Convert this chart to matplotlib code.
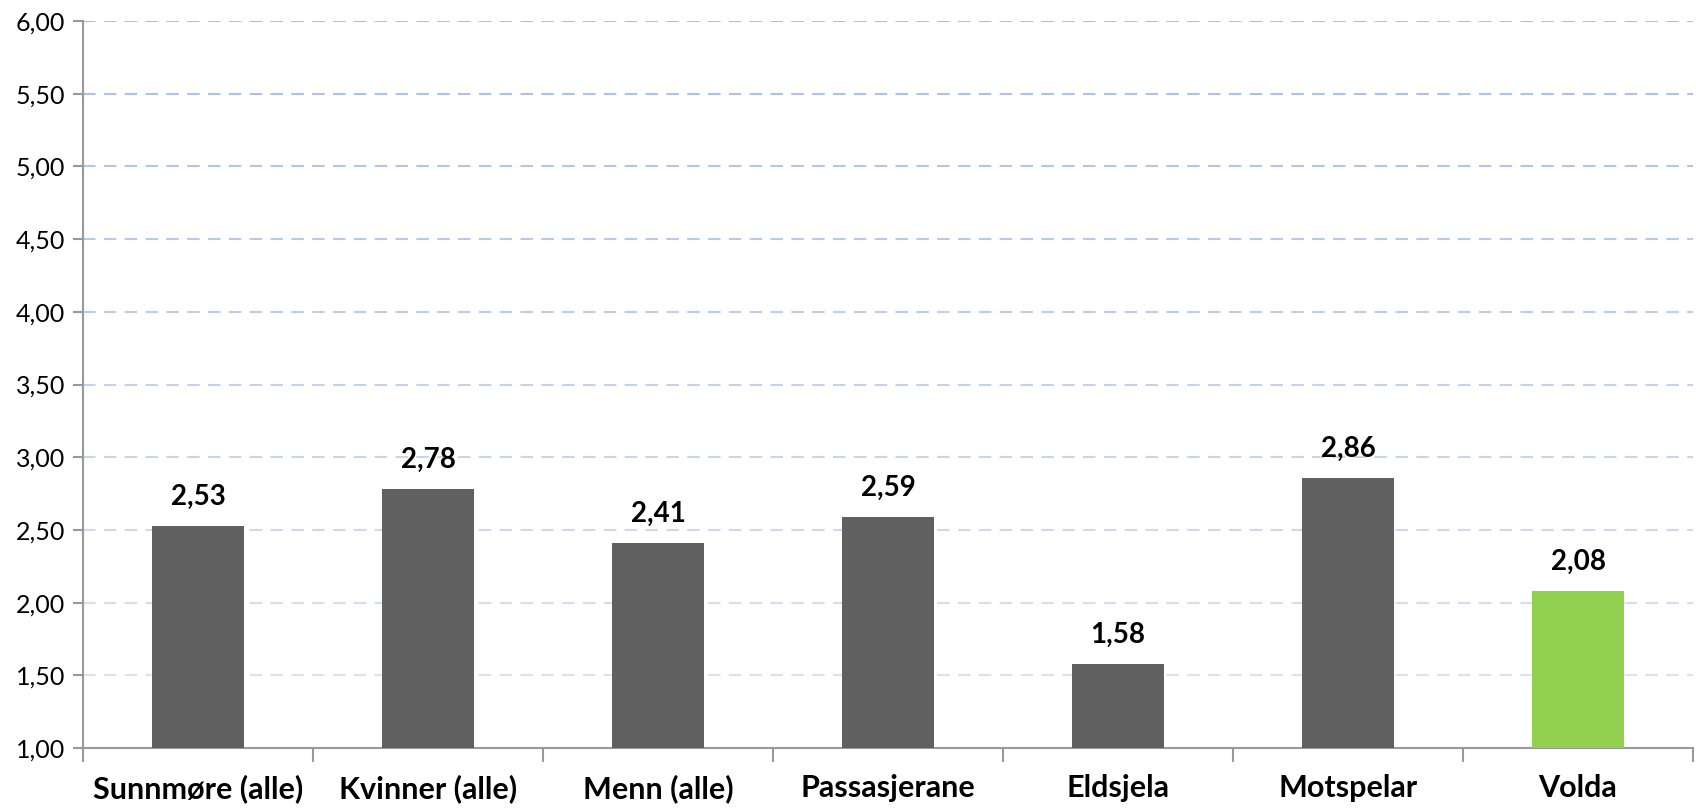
import numpy as np
import matplotlib.pyplot as plt
from matplotlib.colors import to_rgb

categories = ['Sunnmøre (alle)', 'Kvinner (alle)', 'Menn (alle)', 'Passasjerane',
              'Eldsjela', 'Motspelar', 'Volda']
values = [2.53, 2.78, 2.41, 2.59, 1.58, 2.86, 2.08]
bar_colors = ['#606060'] * 6 + ['#92d050']
yticks = [1.0, 1.5, 2.0, 2.5, 3.0, 3.5, 4.0, 4.5, 5.0, 5.5, 6.0]

plt.rcParams['font.family'] = ['Lato', 'DejaVu Sans']

fig = plt.figure(figsize=(16.96, 8.08), dpi=100)
ax = fig.add_axes([83 / 1696, 1 - 748 / 808, (1693 - 83) / 1696, (748 - 21) / 808])

x = np.arange(len(categories))
ax.bar(x, [v - 1.0 for v in values], bottom=1.0, width=0.4, color=bar_colors, zorder=3)

# gridlines fade from blue at the top to pale at the bottom
top_c = np.array(to_rgb('#a6bee8'))
bot_c = np.array(to_rgb('#dfe5f3'))
for t in yticks[1:]:
    f = (t - 1.0) / 5.0
    c = bot_c + (top_c - bot_c) * f
    ax.axhline(t, color=c, lw=1.5, ls=(0, (6, 4)), zorder=1)

for xi, v in zip(x, values):
    ax.text(xi, v + 0.11, f'{v:.2f}'.replace('.', ','), ha='center', va='bottom',
            fontsize=20, fontweight='bold')

ax.set_xlim(-0.5, len(categories) - 0.5)
ax.set_ylim(1.0, 6.0)
ax.set_yticks(yticks)
ax.set_yticklabels([f'{t:.2f}'.replace('.', ',') for t in yticks], fontsize=18)
ax.set_xticks(np.arange(len(categories) + 1) - 0.5)
ax.set_xticklabels([])
ax.set_xticks(x, minor=True)
ax.set_xticklabels(categories, minor=True, fontsize=22, fontweight='bold')
ax.tick_params(axis='x', which='major', length=10, color='#999999', width=1.5)
ax.tick_params(axis='x', which='minor', length=0, pad=19)
ax.tick_params(axis='y', length=7, color='#999999', width=1.5, pad=6)

for side in ['top', 'right']:
    ax.spines[side].set_visible(False)
for side in ['left', 'bottom']:
    ax.spines[side].set_color('#999999')
    ax.spines[side].set_linewidth(1.5)

fig.savefig('out.png', dpi=100)
